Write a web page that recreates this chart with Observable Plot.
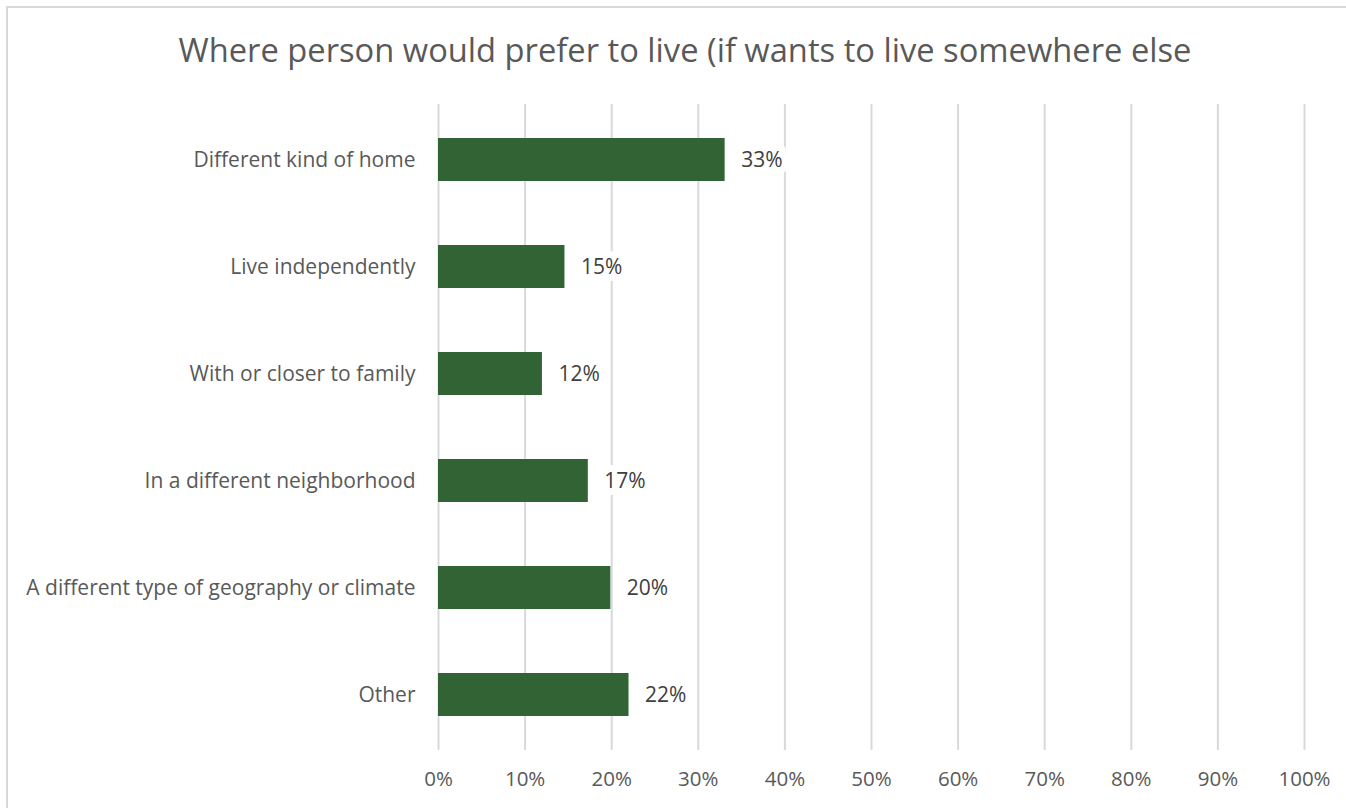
<!DOCTYPE html>
<html>
<head>
<meta charset="utf-8">
<script src="https://cdn.jsdelivr.net/npm/d3@7"></script>
<script src="https://cdn.jsdelivr.net/npm/@observablehq/plot@0.6"></script>
<style>
  html, body { margin: 0; padding: 0; background: #fff; overflow: hidden; }
  #frame { position: absolute; left: 6px; top: 6px; width: 1400px; height: 900px; border: 2px solid #d9d9d9; box-sizing: border-box; }
  #wrap { position: absolute; left: 0; top: 0; width: 1346px; }
  #title { height: 95px; box-sizing: border-box; padding-top: 33px; text-align: center; font-family: "Open Sans", sans-serif; font-size: 32.7px; line-height: 33px; color: #595959; padding-left: 24px; white-space: nowrap; }
  svg { display: block; }
</style>
</head>
<body>
<div id="frame"></div>
<div id="wrap">
  <div id="title">Where person would prefer to live (if wants to live somewhere else</div>
  <div id="chart"></div>
</div>
<script>
const categories = [
  "Different kind of home",
  "Live independently",
  "With or closer to family",
  "In a different neighborhood",
  "A different type of geography or climate",
  "Other"
];
const values = [0.331, 0.146, 0.120, 0.173, 0.199, 0.220];
const xTicks = [0, 0.1, 0.2, 0.3, 0.4, 0.5, 0.6, 0.7, 0.8, 0.9, 1.0];

const data = categories.map((c, i) => ({category: c, value: values[i]}));
const pct = d3.format(".0%");

const plot = Plot.plot({
  width: 1346,
  height: 713,
  marginLeft: 438,
  marginRight: 42,
  marginTop: 9,
  marginBottom: 58,
  style: {fontFamily: "'Open Sans', sans-serif", fontSize: "21px", color: "#595959", background: "transparent"},
  x: {domain: [0, 1]},
  y: {domain: categories, paddingInner: 0.6, paddingOuter: 0.3},
  marks: [
    Plot.ruleX(xTicks, {stroke: "#d9d9d9", strokeWidth: 2}),
    Plot.barX(data, {x: "value", y: "category", fill: "#326334"}),
    Plot.text(data, {
      x: "value", y: "category", text: d => pct(d.value),
      textAnchor: "start", dx: 16, fill: "#404040",
      stroke: "white", strokeWidth: 14, fontSize: 21
    }),
    Plot.axisX({ticks: xTicks, tickFormat: d3.format(".0%"), tickSize: 0, tickPadding: 21, fill: "#595959", fontSize: 20.5, label: null}),
    Plot.axisY({tickSize: 0, tickPadding: 23, fill: "#595959", fontSize: 21, label: null})
  ]
});
document.getElementById("chart").appendChild(plot);
</script>
</body>
</html>
